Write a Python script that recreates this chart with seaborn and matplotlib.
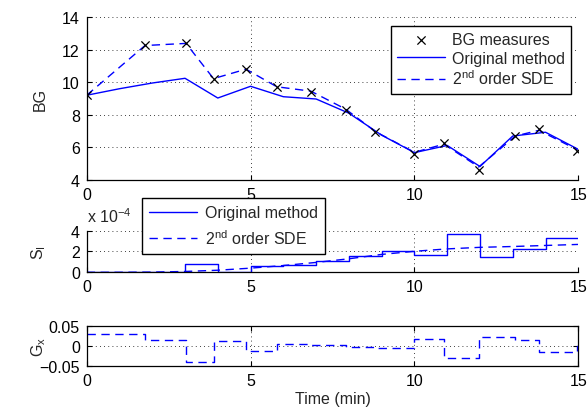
import numpy as np
import pandas as pd
import seaborn as sns
import matplotlib
matplotlib.use("Agg")
import matplotlib.pyplot as plt

# BG measurements (time in min)
meas_t = [0, 1.78, 3.03, 3.87, 4.86, 5.8, 6.84, 7.9, 8.8, 10.0, 10.9, 11.96, 13.08, 13.8, 14.97]
meas_bg = [9.2, 12.28, 12.42, 10.2, 10.83, 9.72, 9.42, 8.31, 6.93, 5.6, 6.25, 4.61, 6.72, 7.13, 5.8]

# 2nd order SDE fit of BG, at the measurement times
sde_bg = [9.2, 12.25, 12.38, 10.22, 10.8, 9.72, 9.45, 8.35, 6.98, 5.7, 6.2, 4.8, 6.7, 7.05, 5.85]

# original method BG, one value per minute
orig_t = list(range(16))
orig_bg = [9.2, 9.6, 9.95, 10.24, 9.03, 9.75, 9.11, 8.97, 8.1, 6.75, 5.68, 6.12, 4.83, 6.7, 6.93, 5.88]

# insulin sensitivity S_I (x 1e-4)
si_t = list(range(16))
si_orig = [0, 0, 0, 0.83, 0, 0.6, 0.68, 1.08, 1.59, 2.03, 1.65, 3.65, 1.43, 2.22, 3.33, 3.33]
si_sde = [0, 0, 0.02, 0.08, 0.2, 0.4, 0.65, 0.95, 1.3, 1.72, 2.02, 2.25, 2.4, 2.48, 2.58, 2.68]

# G_x of the SDE, held between measurements
gx_t = meas_t + [15]
gx_val = [0.029, 0.014, -0.039, 0.0125, -0.0125, 0.006, 0.0025, -0.0025, -0.004,
          0.017, -0.031, 0.0225, 0.015, -0.015, 0.0, 0.0]

sns.set_style("white")
plt.rcParams["font.family"] = ["Liberation Sans", "DejaVu Sans"]
plt.rcParams["mathtext.fontset"] = "custom"
plt.rcParams["mathtext.rm"] = "Liberation Sans"
plt.rcParams["mathtext.it"] = "Liberation Sans:italic"
plt.rcParams["axes.unicode_minus"] = True

FS = 11.5
dash = (0, (6, 4))
dot = (0, (1, 4))

fig = plt.figure(figsize=(5.87, 4.10), dpi=100)
left, width = 0.1477, 0.8375
ax1 = fig.add_axes([left, 0.5585, width, 0.3976])
ax2 = fig.add_axes([left, 0.3334, width, 0.1015])
ax3 = fig.add_axes([left, 0.1049, width, 0.0976])


def style(ax, box):
    ax.set_xlim(0, 15)
    ax.set_xticks([0, 5, 10, 15])
    ax.grid(True, color="k", linestyle=dot, linewidth=0.6)
    ax.set_axisbelow(True)
    for s in ["top", "right"]:
        ax.spines[s].set_visible(box)
    for s in ax.spines.values():
        s.set_color("k")
        s.set_linewidth(0.9)
    ax.tick_params(direction="in", length=3.5, width=0.8, labelsize=FS,
                   colors="k", pad=5, top=box, right=box,
                   bottom=True, left=True)


# --- BG panel ---
sns.lineplot(x=orig_t, y=orig_bg, ax=ax1, color="blue", linewidth=1.0,
             label="Original method")
sns.lineplot(x=meas_t, y=sde_bg, ax=ax1, color="blue", linewidth=1.0,
             linestyle=dash, label="2$^{\\rm nd}$ order SDE")
sns.scatterplot(x=meas_t, y=meas_bg, ax=ax1, marker="x", color="k", s=35,
                linewidth=0.9, label="BG measures", zorder=5)
ax1.set_ylim(4, 14)
ax1.set_yticks([4, 6, 8, 10, 12, 14])
style(ax1, False)
ax1.set_ylabel("BG", fontsize=FS)
h, l = ax1.get_legend_handles_labels()
order = [2, 0, 1]
leg1 = ax1.legend([h[i] for i in order], [l[i] for i in order],
                  loc="upper right", bbox_to_anchor=(571 / 587, 1 - 27 / 410),
                  bbox_transform=fig.transFigure, fontsize=FS, frameon=True,
                  fancybox=False, edgecolor="k", framealpha=1, borderaxespad=0,
                  handlelength=3.0, handletextpad=0.4, labelspacing=0.2,
                  borderpad=0.4, scatterpoints=1)
leg1.get_frame().set_linewidth(1.0)

# --- S_I panel ---
sns.lineplot(x=si_t, y=si_orig, ax=ax2, color="blue", linewidth=1.0,
             drawstyle="steps-post", label="Original method")
sns.lineplot(x=si_t, y=si_sde, ax=ax2, color="blue", linewidth=1.0,
             linestyle=dash, label="2$^{\\rm nd}$ order SDE")
ax2.set_ylim(0, 4)
ax2.set_yticks([0, 2, 4])
style(ax2, False)
ax2.set_ylabel("S$_{\\rm I}$", fontsize=FS)
ax2.annotate("x 10$^{-4}$", xy=(0, 1), xycoords="axes fraction",
             xytext=(0, 4), textcoords="offset points", fontsize=FS,
             ha="left", va="bottom")
leg2 = ax2.legend(loc="upper left", bbox_to_anchor=(141.7 / 587, 1 - 199 / 410),
                  bbox_transform=fig.transFigure, fontsize=FS, frameon=True,
                  fancybox=False, edgecolor="k", framealpha=1, borderaxespad=0,
                  handlelength=3.0, handletextpad=0.5, labelspacing=0.5,
                  borderpad=0.45)
leg2.get_frame().set_linewidth(1.0)

# --- G_x panel ---
sns.lineplot(x=gx_t, y=gx_val, ax=ax3, color="blue", linewidth=1.0,
             drawstyle="steps-post", linestyle=dash, legend=False)
ax3.set_ylim(-0.05, 0.05)
ax3.set_yticks([-0.05, 0, 0.05])
ax3.set_yticklabels(["\u22120.05", "0", "0.05"])
style(ax3, True)
ax3.set_ylabel("G$_{\\rm x}$", fontsize=FS)
ax3.set_xlabel("Time (min)", fontsize=FS, labelpad=2)

for ax in (ax1, ax2, ax3):
    ax.yaxis.set_label_coords(-0.079, 0.5)

fig.savefig("out.png", dpi=100)
